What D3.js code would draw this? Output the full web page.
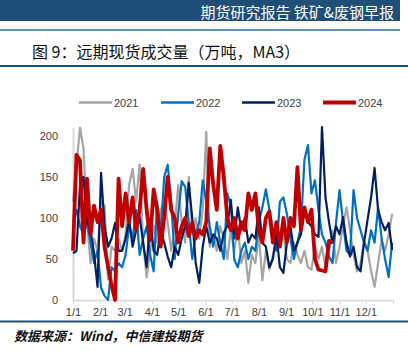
<!DOCTYPE html>
<html lang="zh">
<head>
  <meta charset="UTF-8">
  <title>远期现货成交量</title>
  <style>
    body { margin: 0; background: #fff; }
    svg { display: block; }
  </style>
  <script src="https://d3js.org/d3.v7.min.js"></script>
</head>
<body>
  <div id="chart"></div>
  <script>
    // values read every 4 days from Jan 1 (万吨, MA3)
    const dayStep = 4;
    const years = ["2021", "2022", "2023", "2024"];
    const colors = ["#a5a5a5", "#0070c0", "#002060", "#c00000"];
    const tickLabels = ["1/1", "2/1", "3/1", "4/1", "5/1", "6/1", "7/1", "8/1", "9/1", "10/1", "11/1", "12/1"];
    const yTicks = [0, 50, 100, 150, 200];

    const v2021 = [120, 165, 210, 185, 95, 45, 75, 60, 120, 115, 25, 65, 60, 75, 60, 80, 140, 160, 120, 165,
      70, 28, 60, 90, 70, 110, 120, 95, 60, 90, 140, 95, 70, 150, 80, 100, 75, 110, 205, 65,
      80, 60, 90, 75, 50, 85, 60, 90, 45, 60, 21, 55, 45, 80, 24, 60, 37, 55, 75, 65,
      80, 50, 45, 70, 55, 45, 60, 40, 37, 65, 50, 65, 40, 60, 85, 45, 65, 90, 113, 85,
      55, 35, 45, 73, 60, 35, 16, 45, 73, 60, 80, 105];
    const v2022 = [95, 110, 90, 80, 95, 70, 45, 60, 15, 5, 0, 40, 35, 45, 40, 55, 90, 75, 110, 55,
      75, 90, 55, 35, 120, 80, 150, 165, 120, 50, 105, 145, 138, 95, 50, 80, 95, 146, 120, 90,
      65, 95, 70, 50, 130, 115, 49, 40, 60, 70, 50, 65, 60, 95, 113, 135, 110, 85, 60, 120,
      125, 105, 75, 50, 70, 90, 171, 189, 130, 146, 110, 80, 70, 53, 45, 94, 134, 95, 60, 55,
      134, 100, 85, 70, 60, 85, 70, 113, 75, 50, 28, 70];
    const v2023 = [57, 60, 140, 150, 95, 85, 57, 16, 155, 90, 65, 75, 94, 60, 60, 75, 98, 65, 85, 101,
      70, 40, 100, 60, 55, 85, 70, 53, 40, 65, 55, 75, 90, 143, 100, 45, 21, 65, 90, 70,
      80, 75, 60, 82, 90, 122, 75, 113, 85, 100, 70, 80, 75, 113, 70, 65, 40, 50, 80, 40,
      33, 70, 90, 60, 70, 80, 113, 95, 90, 80, 77, 211, 125, 95, 70, 90, 80, 101, 70, 53,
      65, 40, 35, 70, 98, 125, 161, 110, 95, 85, 94, 61];
    const v2024 = [60, 177, 170, 70, 148, 80, 115, 95, 110, 65, 40, 18, 0, 148, 90, 130, 95, 125, 85, 110,
      160, 110, 73, 135, 110, 65, 100, 150, 110, 100, 70, 90, 100, 78, 94, 75, 85, 80, 95, 185,
      140, 110, 188, 150, 100, 85, 100, 75, 95, 85, 130, 110, 130, 85, 70, 100, 108, 70, 95, 65,
      100, 70, 100, 90, 162, 85, 113, 95, 110, 50, 37, 36, 35, 72, 70];
    const seriesValues = [v2021, v2022, v2023, v2024];
    const lineWidths = [2.2, 2.2, 2.2, 3.8];

    const W = 408, H = 351;
    const start = new Date(2021, 0, 1), end = new Date(2022, 0, 1);

    const svg = d3.select("#chart").append("svg")
      .attr("width", W)
      .attr("height", H);

    // header band
    svg.append("rect").attr("x", 0).attr("y", 0).attr("width", 400).attr("height", 21).attr("fill", "#1f4e79");
    svg.append("text")
      .attr("x", 394).attr("y", 17.6)
      .attr("text-anchor", "end")
      .attr("fill", "#fff")
      .style("font", "15px 'Noto Sans CJK SC', sans-serif")
      .text("期货研究报告 铁矿&废钢早报");
    svg.append("line").attr("x1", 0).attr("x2", 400).attr("y1", 30).attr("y2", 30)
      .attr("stroke", "#2e6da4").attr("stroke-width", 1.5);

    svg.append("text")
      .attr("x", 32).attr("y", 58)
      .attr("fill", "#111")
      .style("font", "16px 'Noto Sans CJK SC', sans-serif")
      .text("图 9：远期现货成交量（万吨，MA3）");
    svg.append("line").attr("x1", 0).attr("x2", W).attr("y1", 66).attr("y2", 66)
      .attr("stroke", "#1f4e79").attr("stroke-width", 2);

    svg.append("line").attr("x1", 0).attr("x2", W).attr("y1", 321.5).attr("y2", 321.5)
      .attr("stroke", "#1f4e79").attr("stroke-width", 2);
    svg.append("text")
      .attr("x", 14).attr("y", 341)
      .attr("fill", "#111")
      .style("font", "italic bold 13px 'Noto Sans CJK SC', sans-serif")
      .text("数据来源：Wind，中信建投期货");

    // scales
    const x = d3.scaleTime().domain([start, end]).range([73, 393]);
    const y = d3.scaleLinear().domain([0, 210]).range([300, 127.8]);

    // y axis
    const yAxis = svg.append("g")
      .attr("transform", "translate(73,0)")
      .call(d3.axisLeft(y).tickValues(yTicks).tickSize(0).tickPadding(15));
    yAxis.select(".domain").attr("stroke", "#d9d9d9").attr("stroke-width", 2);
    yAxis.selectAll("text").attr("fill", "#404040").style("font", "11px 'Liberation Sans', Arial, sans-serif");

    // x axis
    const monthTicks = d3.timeMonth.range(start, d3.timeDay.offset(end, 1));
    const xAxis = svg.append("g")
      .attr("transform", "translate(0,300)")
      .call(d3.axisBottom(x).tickValues(monthTicks)
        .tickFormat((d, i) => i < tickLabels.length ? tickLabels[i] : "")
        .tickSize(4).tickSizeOuter(0).tickPadding(4));
    xAxis.select(".domain").attr("stroke", "#d9d9d9").attr("stroke-width", 1.5);
    xAxis.selectAll(".tick line").attr("stroke", "#d9d9d9");
    xAxis.selectAll("text").attr("fill", "#404040").style("font", "11px 'Liberation Sans', Arial, sans-serif");

    // lines
    const line = d3.line()
      .x((d, i) => x(d3.timeDay.offset(start, i * dayStep)))
      .y(d => y(d))
      .curve(d3.curveLinear);

    seriesValues.forEach((vals, k) => {
      svg.append("path")
        .datum(vals)
        .attr("fill", "none")
        .attr("stroke", colors[k])
        .attr("stroke-width", lineWidths[k])
        .attr("stroke-linejoin", "round")
        .attr("d", line);
    });

    // legend
    const legendX = [79, 161, 242, 323];
    const lg = svg.append("g");
    years.forEach((yr, k) => {
      lg.append("line")
        .attr("x1", legendX[k]).attr("x2", legendX[k] + 33)
        .attr("y1", 102.5).attr("y2", 102.5)
        .attr("stroke", colors[k])
        .attr("stroke-width", k === 3 ? 4 : 2.5);
      lg.append("text")
        .attr("x", legendX[k] + 35).attr("y", 106.5)
        .attr("fill", "#404040")
        .style("font", "11px 'Liberation Sans', Arial, sans-serif")
        .text(yr);
    });
  </script>
</body>
</html>
